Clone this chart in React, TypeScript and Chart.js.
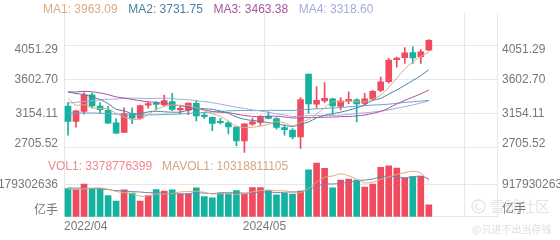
import React, { useEffect, useRef } from 'react';
import { Chart, registerables } from 'chart.js';

Chart.register(...registerables);

// ---- data ----
const months = [
  '2022/04', '2022/05', '2022/06', '2022/07', '2022/08', '2022/09', '2022/10', '2022/11', '2022/12',
  '2023/01', '2023/02', '2023/03', '2023/04', '2023/05', '2023/06', '2023/07', '2023/08', '2023/09', '2023/10', '2023/11', '2023/12',
  '2024/01', '2024/02', '2024/03', '2024/04', '2024/05', '2024/06', '2024/07', '2024/08', '2024/09', '2024/10', '2024/11', '2024/12',
  '2025/01', '2025/02', '2025/03', '2025/04', '2025/05', '2025/06', '2025/07', '2025/08', '2025/09', '2025/10', '2025/11', '2025/12',
  '2026/01',
];
const opens = [3250, 3048, 3180, 3400, 3250, 3195, 3030, 2900, 3151, 3087, 3262, 3283, 3267, 3311, 3200, 3197, 3288, 3120, 3101, 3045, 3029, 2972, 2790, 3011, 3033, 3117, 3085, 2965, 2933, 2841, 3675, 3277, 3319, 3347, 3246, 3320, 3333, 3285, 3345, 3457, 3574, 3865, 3890, 3960, 3905, 3990];
const highs = [3299, 3195, 3429, 3424, 3296, 3246, 3085, 3226, 3226, 3265, 3310, 3311, 3395, 3418, 3263, 3294, 3322, 3164, 3106, 3089, 3045, 2976, 3015, 3090, 3123, 3174, 3098, 2999, 2951, 3362, 3675, 3509, 3560, 3357, 3362, 3440, 3349, 3420, 3458, 3636, 3883, 3899, 4025, 4034, 3997, 4130];
const lows = [2864, 2970, 3142, 3227, 3155, 3022, 2885, 2897, 3017, 3074, 3223, 3198, 3252, 3190, 3148, 3135, 3053, 3085, 2923, 3011, 2882, 2724, 2635, 2993, 2995, 3079, 2946, 2865, 2815, 2689, 3152, 3227, 3294, 3140, 3200, 3281, 3041, 3262, 3328, 3440, 3553, 3764, 3816, 3815, 3815, 3980];
const closes = [3047, 3186, 3399, 3253, 3202, 3024, 2893, 3151, 3089, 3256, 3280, 3273, 3323, 3205, 3202, 3291, 3120, 3110, 3019, 3030, 2975, 2789, 3015, 3041, 3105, 3087, 2967, 2939, 2842, 3337, 3280, 3326, 3352, 3251, 3321, 3336, 3279, 3347, 3444, 3573, 3858, 3883, 3955, 3889, 3969, 4120];

const ma5 = [3352, 3262, 3269, 3227, 3217, 3213, 3154, 3105, 3072, 3083, 3134, 3210, 3244, 3267, 3257, 3259, 3228, 3186, 3148, 3114, 3051, 2985, 2966, 2970, 2985, 3007, 3043, 3028, 2988, 3034, 3073, 3145, 3227, 3309, 3306, 3317, 3308, 3307, 3345, 3396, 3500, 3621, 3743, 3832, 3911, 3963];
const ma10 = [3438, 3417, 3403, 3371, 3337, 3283, 3208, 3187, 3150, 3150, 3173, 3182, 3174, 3170, 3170, 3196, 3219, 3215, 3208, 3185, 3155, 3106, 3076, 3059, 3050, 3029, 3014, 2997, 2979, 3010, 3040, 3094, 3128, 3149, 3170, 3195, 3226, 3267, 3327, 3351, 3409, 3464, 3525, 3589, 3653, 3732];
const ma20 = [3439, 3437, 3446, 3439, 3425, 3402, 3372, 3357, 3339, 3321, 3306, 3300, 3288, 3270, 3253, 3239, 3213, 3201, 3179, 3168, 3164, 3144, 3125, 3114, 3110, 3113, 3116, 3106, 3093, 3097, 3097, 3100, 3102, 3104, 3110, 3112, 3120, 3132, 3153, 3180, 3224, 3279, 3326, 3369, 3412, 3463];
const ma30 = [3290, 3301, 3312, 3322, 3332, 3341, 3343, 3353, 3356, 3354, 3350, 3352, 3355, 3349, 3340, 3334, 3321, 3310, 3295, 3276, 3255, 3235, 3218, 3200, 3185, 3169, 3147, 3133, 3112, 3115, 3123, 3127, 3126, 3126, 3130, 3140, 3153, 3160, 3171, 3182, 3201, 3222, 3243, 3265, 3291, 3319];
const ma60 = [3155, 3156, 3159, 3159, 3156, 3151, 3143, 3140, 3136, 3132, 3133, 3135, 3139, 3140, 3146, 3153, 3160, 3165, 3172, 3179, 3187, 3190, 3192, 3191, 3191, 3194, 3194, 3194, 3193, 3201, 3207, 3214, 3219, 3224, 3231, 3241, 3248, 3256, 3264, 3268, 3276, 3287, 3299, 3307, 3316, 3326];

const volumes = [8.1e9, 7.7e9, 9.4e9, 8.1e9, 8.1e9, 6.1e9, 4.5e9, 7.7e9, 6.8e9, 4.5e9, 6.1e9, 7.8e9, 7.4e9, 7.7e9, 6.6e9, 6.6e9, 8.3e9, 5.8e9, 5.4e9, 6.8e9, 6.6e9, 7.5e9, 6.6e9, 8.4e9, 8.4e9, 7.5e9, 6.3e9, 6.7e9, 6.5e9, 7.4e9, 13.5e9, 15.4e9, 13.9e9, 8.3e9, 10.5e9, 10.8e9, 10.5e9, 8.5e9, 9.4e9, 14.2e9, 14.6e9, 14.0e9, 11.0e9, 11.5e9, 11.7e9, 3378776399];
const mavol5 = [7.9e9, 7.8e9, 8.0e9, 8.2e9, 8.28e9, 7.88e9, 7.24e9, 6.9e9, 6.64e9, 5.92e9, 5.92e9, 6.58e9, 6.52e9, 6.7e9, 7.12e9, 7.22e9, 7.32e9, 7.0e9, 6.54e9, 6.58e9, 6.58e9, 6.42e9, 6.58e9, 7.18e9, 7.5e9, 7.68e9, 7.44e9, 7.46e9, 7.08e9, 6.88e9, 8.08e9, 9.9e9, 11.34e9, 11.7e9, 12.32e9, 11.78e9, 10.8e9, 9.72e9, 9.94e9, 10.68e9, 11.44e9, 12.14e9, 12.64e9, 13.06e9, 12.56e9, 10318811105];
const mavol10 = [8.3e9, 8.2e9, 8.2e9, 8.1e9, 8.0e9, 7.8e9, 7.5e9, 7.4e9, 7.2e9, 7.1e9, 6.9e9, 6.91e9, 6.71e9, 6.67e9, 6.52e9, 6.57e9, 6.95e9, 6.76e9, 6.62e9, 6.85e9, 6.9e9, 6.87e9, 6.79e9, 6.86e9, 7.04e9, 7.13e9, 6.93e9, 7.02e9, 7.13e9, 7.19e9, 7.88e9, 8.67e9, 9.4e9, 9.39e9, 9.6e9, 9.93e9, 10.35e9, 10.53e9, 10.82e9, 11.5e9, 11.61e9, 11.47e9, 11.18e9, 11.5e9, 11.62e9, 10.88e9];

const priceTicks = [4051.29, 3602.7, 3154.11, 2705.52];
const volumeTicks = [9179302636];
const xTickLabels = ['2022/04', '2024/05'];
const maNames = ['MA1', 'MA2', 'MA3', 'MA4'];
const maValues = ['3963.09', '3731.75', '3463.38', '3318.60'];
const volNames = ['VOL1', 'MAVOL1'];
const volValues = ['3378776399', '10318811105'];
const volumeUnit = '亿手';
const watermarkTitle = '雪球社区';
const watermarkUser = '@只进不出当存钱';

// ---- styles ----
const UP = '#f04b60';
const DOWN = '#15b2a0';
const MA_COLORS = ['#dcaa80', '#4d80a3', '#a9559a', '#a4aadc'];
const MA60_COLOR = '#5da9c8';
const VOL_TEXT_COLORS = ['#ee8891', '#d3a680'];
const MAVOL_COLORS = ['#d9ab84', '#6f83aa'];
const GRID = '#e7e7e7';
const LABEL = '#777777';
const FONT = '"Liberation Sans", Arial, "Noto Sans CJK SC", sans-serif';
const CJK = '"Noto Sans CJK SC", "Liberation Sans", sans-serif';

const overlay = {
  id: 'overlay',
  afterDraw(chart: any) {
    const ctx = chart.ctx as CanvasRenderingContext2D;
    const yv = chart.scales.yv;
    ctx.save();
    // watermark
    ctx.strokeStyle = '#e4e4e4';
    ctx.lineWidth = 1.3;
    ctx.beginPath();
    ctx.arc(478.5, 206.5, 6.5, 0, Math.PI * 2);
    ctx.stroke();
    ctx.beginPath();
    ctx.arc(478.5, 206.5, 3, Math.PI * 0.2, Math.PI * 1.4);
    ctx.stroke();
    ctx.fillStyle = '#e4e4e4';
    ctx.font = `15px ${CJK}`;
    ctx.textBaseline = 'middle';
    ctx.textAlign = 'left';
    ctx.fillText(watermarkTitle, 490, 206.5);
    ctx.font = `10px ${CJK}`;
    ctx.fillStyle = '#dedede';
    ctx.fillText(watermarkUser, 472, 229);

    // MA legend
    ctx.font = `12px ${FONT}`;
    let x = 43;
    maNames.forEach((n, i) => {
      const t = `${n}: ${maValues[i]}`;
      ctx.fillStyle = MA_COLORS[i];
      ctx.fillText(t, x, 10);
      x += ctx.measureText(t).width + 10.5;
    });
    // volume legend
    x = 48;
    volNames.forEach((n, i) => {
      const t = `${n}: ${volValues[i]}`;
      ctx.fillStyle = VOL_TEXT_COLORS[i];
      ctx.fillText(t, x, 166.5);
      x += ctx.measureText(t).width + 10;
    });
    // unit labels
    ctx.fillStyle = LABEL;
    ctx.font = `12px ${CJK}`;
    ctx.textAlign = 'right';
    ctx.fillText(volumeUnit, 58, yv.bottom - 7.5);
    ctx.textAlign = 'left';
    ctx.fillText(volumeUnit, 502, yv.bottom - 8.5);
    ctx.restore();
  },
};

// first label nudged down, last nudged up (labels kept inside the panel)
const priceLabel = (v: any, i: number) => {
  const t = Number(v).toFixed(2);
  if (i === 0) return ['', t];
  if (i === priceTicks.length - 1) return [t, ''];
  return t;
};

export default function App() {
  const ref = useRef<HTMLCanvasElement | null>(null);

  useEffect(() => {
    if (!ref.current) return;
    const candleColors = months.map((_, i) => (closes[i] >= opens[i] ? UP : DOWN));
    const pts = (arr: number[]) => arr.map((v, i) => ({ x: i, y: v }));
    const line = (label: string, arr: number[], color: string, axis: string) => ({
      type: 'line' as const,
      label,
      data: pts(arr),
      yAxisID: axis,
      borderColor: color,
      borderWidth: 1,
      pointRadius: 0,
      tension: 0.3,
      fill: false,
      order: 0,
    });
    const xTickPos = xTickLabels.map((l) => months.indexOf(l) - 0.5);
    const font = { family: FONT, size: 12 };
    const priceFont = { family: FONT, size: 12, lineHeight: 0.6 };

    const chart = new Chart(ref.current, {
      type: 'bar',
      data: {
        datasets: [
          line('MA1', ma5, MA_COLORS[0], 'y'),
          line('MA2', ma10, MA_COLORS[1], 'y'),
          line('MA3', ma20, MA_COLORS[2], 'y'),
          line('MA4', ma30, MA_COLORS[3], 'y'),
          line('MA60', ma60, MA60_COLOR, 'y'),
          line('MAVOL1', mavol5, MAVOL_COLORS[0], 'yv'),
          line('MAVOL2', mavol10, MAVOL_COLORS[1], 'yv'),
          {
            type: 'bar',
            label: 'body',
            data: months.map((_, i) => ({ x: i, y: [opens[i], closes[i]] })) as any,
            yAxisID: 'y',
            backgroundColor: candleColors,
            barThickness: 6,
            minBarLength: 1.5,
            grouped: false,
            order: 1,
          },
          {
            type: 'bar',
            label: 'wick',
            data: months.map((_, i) => ({ x: i, y: [lows[i], highs[i]] })) as any,
            yAxisID: 'y',
            backgroundColor: candleColors,
            barThickness: 1,
            grouped: false,
            order: 2,
          },
          {
            type: 'bar',
            label: 'VOL1',
            data: pts(volumes),
            yAxisID: 'yv',
            backgroundColor: candleColors,
            barThickness: 6,
            grouped: false,
            order: 3,
          },
        ] as any,
      },
      options: {
        responsive: false,
        animation: false,
        devicePixelRatio: 1,
        events: [],
        layout: { padding: 0 },
        plugins: { legend: { display: false }, tooltip: { enabled: false } },
        scales: {
          x: {
            type: 'linear',
            position: 'bottom',
            min: -0.5,
            max: 53.5,
            offset: false,
            afterBuildTicks: (s: any) => {
              s.ticks = [...xTickPos, 49.5].map((v) => ({ value: v }));
            },
            afterFit: (s: any) => {
              s.height = 23.3;
            },
            ticks: {
              align: 'inner',
              maxRotation: 0,
              autoSkip: false,
              padding: 3,
              color: LABEL,
              font,
              callback: (v: any) => {
                const k = xTickPos.indexOf(Number(v));
                return k >= 0 ? xTickLabels[k] : '';
              },
            },
            grid: { color: GRID, drawTicks: false, offset: false },
            border: { display: true, color: GRID },
          },
          y: {
            type: 'linear',
            position: 'left',
            stack: 'left',
            stackWeight: 152,
            weight: 1,
            min: 2589.9,
            max: 4480.4,
            afterBuildTicks: (s: any) => {
              s.ticks = priceTicks.map((v) => ({ value: v }));
            },
            afterFit: (s: any) => {
              s.width = 64;
            },
            ticks: { padding: 6, color: LABEL, font: priceFont, callback: priceLabel },
            grid: { color: GRID, drawTicks: false },
            border: { display: true, color: GRID },
          },
          yv: {
            type: 'linear',
            position: 'left',
            stack: 'left',
            stackWeight: 64.7,
            weight: 0,
            min: 0,
            max: 1.7468e10,
            afterBuildTicks: (s: any) => {
              s.ticks = volumeTicks.map((v) => ({ value: v }));
            },
            afterFit: (s: any) => {
              s.width = 64;
            },
            ticks: { padding: 6, color: LABEL, font, callback: (v: any) => String(Math.round(Number(v))) },
            grid: { color: GRID, drawTicks: false },
            border: { display: true, color: GRID },
          },
          yR: {
            type: 'linear',
            position: 'right',
            stack: 'right',
            stackWeight: 152,
            weight: 0,
            min: 2589.9,
            max: 4480.4,
            afterBuildTicks: (s: any) => {
              s.ticks = priceTicks.map((v) => ({ value: v }));
            },
            afterFit: (s: any) => {
              s.width = 63;
            },
            ticks: { padding: 5, color: LABEL, font: priceFont, callback: priceLabel },
            grid: { display: false, drawTicks: false },
            border: { display: true, color: GRID },
          },
          yvR: {
            type: 'linear',
            position: 'right',
            stack: 'right',
            stackWeight: 64.7,
            weight: 1,
            min: 0,
            max: 1.7468e10,
            afterBuildTicks: (s: any) => {
              s.ticks = volumeTicks.map((v) => ({ value: v }));
            },
            afterFit: (s: any) => {
              s.width = 63;
            },
            ticks: { padding: 5, color: LABEL, font, callback: (v: any) => String(Math.round(Number(v))) },
            grid: { display: false, drawTicks: false },
            border: { display: true, color: GRID },
          },
        } as any,
      },
      plugins: [overlay],
    });
    return () => chart.destroy();
  }, []);

  return (
    <div style={{ position: 'absolute', left: 0, top: 0, width: 560, height: 240, background: '#ffffff' }}>
      <canvas ref={ref} width={560} height={240} style={{ display: 'block' }} />
    </div>
  );
}
